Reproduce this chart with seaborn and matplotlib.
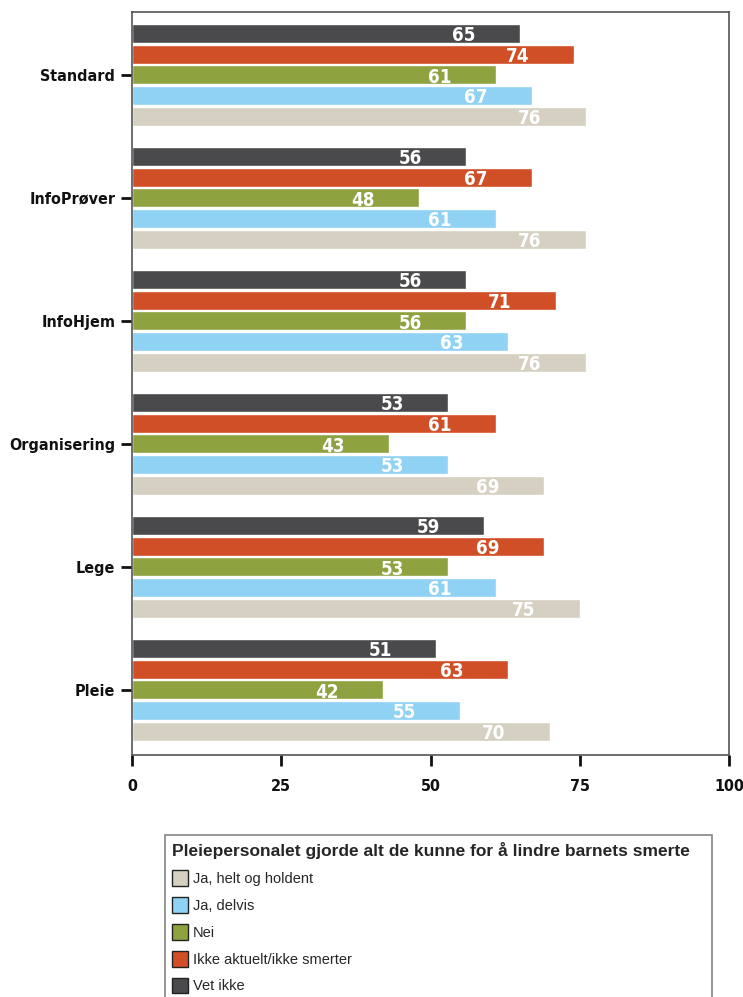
import matplotlib
matplotlib.use("Agg")
import matplotlib.pyplot as plt
import pandas as pd
import seaborn as sns

# ── Data ──────────────────────────────────────────────────────────────────────
categories = ["Standard", "InfoPrøver", "InfoHjem", "Organisering", "Lege", "Pleie"]
series = ["Vet ikke", "Ikke aktuelt/ikke smerter", "Nei", "Ja, delvis", "Ja, helt og holdent"]
vet_ikke = [65, 56, 56, 53, 59, 51]
ikke_aktuelt = [74, 67, 71, 61, 69, 63]
nei = [61, 48, 56, 43, 53, 42]
ja_delvis = [67, 61, 63, 53, 61, 55]
ja_helt = [76, 76, 76, 69, 75, 70]
colors = ["#4a494b", "#d04f27", "#8ea23f", "#8fd2f3", "#d5d0c1"]
legend_title = "Pleiepersonalet gjorde alt de kunne for å lindre barnets smerte"

rows = []
for name, vals in zip(series, [vet_ikke, ikke_aktuelt, nei, ja_delvis, ja_helt]):
    for cat, v in zip(categories, vals):
        rows.append({"kategori": cat, "svar": name, "prosent": v})
df = pd.DataFrame(rows)

# ── Style ─────────────────────────────────────────────────────────────────────
sns.set_style("white")
plt.rcParams["font.family"] = ["DejaVu Sans"]
plt.rcParams["font.stretch"] = "condensed"

fig = plt.figure(figsize=(7.43, 9.97), dpi=100)
ax = fig.add_axes([132 / 743, 1 - 755 / 997, (729 - 132) / 743, (755 - 12) / 997])

sns.barplot(
    data=df, y="kategori", x="prosent", hue="svar",
    order=categories, hue_order=series, palette=colors,
    orient="h", width=0.84, gap=0.08, saturation=1,
    ax=ax, legend=False,
)

# value labels inside bar ends
for cont in ax.containers:
    for bar in cont:
        w = bar.get_width()
        ax.text(
            w - 9.4, bar.get_y() + bar.get_height() / 2 + 0.02, f"{w:.0f}",
            ha="center", va="center", color="white",
            fontsize=13.5, fontweight="bold",
        )

ax.set_xlim(0, 100)
ax.set_ylim(5.53, -0.51)
ax.set_xticks([0, 25, 50, 75, 100])
ax.set_xlabel("")
ax.set_ylabel("")
for lbl in ax.get_xticklabels() + ax.get_yticklabels():
    lbl.set_fontweight("bold")
    lbl.set_fontsize(11.5)
    lbl.set_color("#111111")
ax.tick_params(axis="both", direction="out", length=8, width=2, color="#111111",
               bottom=True, left=True)
ax.tick_params(axis="y", pad=4)
ax.tick_params(axis="x", pad=9)
for sp in ax.spines.values():
    sp.set_visible(True)
    sp.set_color("#555555")
    sp.set_linewidth(1.2)

# ── Legend below ──────────────────────────────────────────────────────────────
handles = [plt.Rectangle((0, 0), 1, 1, facecolor=c, edgecolor="#222222", linewidth=1)
           for c in colors][::-1]
leg = fig.legend(
    handles, series[::-1], title=legend_title,
    loc="upper left", bbox_to_anchor=(165 / 743, 1 - 835 / 997, (712 - 165) / 743, 0.0),
    mode="expand", alignment="left", frameon=True, fancybox=False,
    prop={"family": "Liberation Sans", "stretch": "normal", "size": 10.5},
    title_fontproperties={"family": "Liberation Sans", "weight": "bold", "size": 12.5},
    handlelength=1.1, handleheight=1.3, handletextpad=0.3,
    labelspacing=0.75, borderpad=0.5, borderaxespad=0,
)
leg.get_frame().set_edgecolor("#666666")
leg.get_frame().set_linewidth(1.2)

fig.savefig("out.png", dpi=100)
